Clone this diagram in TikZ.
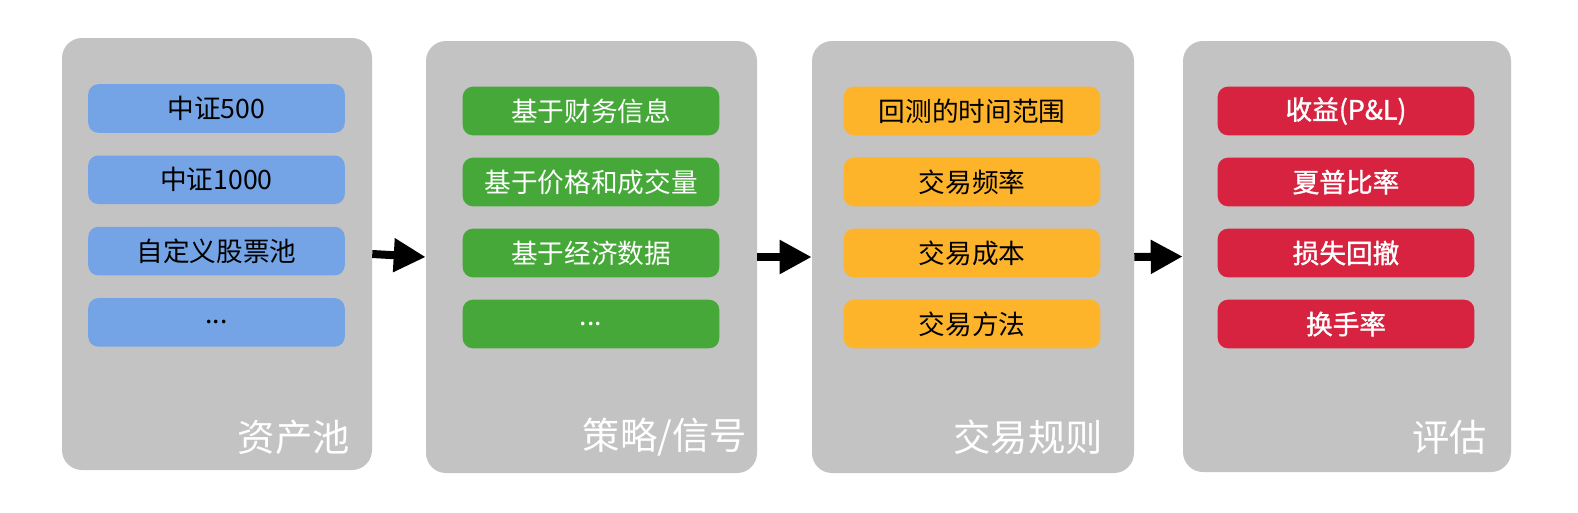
\documentclass[tikz,border=0pt]{standalone}
\usepackage{fontspec}
\setmainfont{Noto Sans CJK SC}
\newfontfamily\cjk{Noto Sans CJK SC}
\newfontfamily\cjkmed[FakeBold=1.2]{Noto Sans CJK SC}
\usetikzlibrary{arrows.meta}
\definecolor{panelgray}{RGB}{195,195,195}
\definecolor{cblue}{RGB}{116,164,230}
\definecolor{cgreen}{RGB}{69,168,56}
\definecolor{corange}{RGB}{253,180,42}
\definecolor{cred}{RGB}{216,35,64}
\tikzset{
  panel/.style={fill=panelgray, draw=none, rounded corners=15pt, inner sep=0pt},
  item/.style={draw=none, rounded corners=7.5pt, minimum width=192.4pt, minimum height=36.4pt, inner sep=0pt, font=\cjk\fontsize{20}{24}\selectfont},
  blueitem/.style={item, fill=cblue, text=black},
  greenitem/.style={item, fill=cgreen, text=white},
  orangeitem/.style={item, fill=corange, text=black},
  reditem/.style={item, fill=cred, text=white, font=\cjkmed\fontsize{20}{24}\selectfont},
  paneltitle/.style={anchor=east, text=white, inner sep=0pt, font=\cjk\fontsize{28}{32}\selectfont},
  flow/.style={line width=6pt, -{Triangle[length=24pt,width=24pt]}}
}
\begin{document}
\begin{tikzpicture}[x=0.75pt,y=-0.75pt]
\useasboundingbox (0,0) rectangle (1578,512);
\fill[white] (0,0) rectangle (1578,512);
% panels
\node[panel, minimum width=232.5pt, minimum height=324pt] (p1) at (217,254) {};
\node[panel, minimum width=248.25pt, minimum height=324pt] (p2) at (591.5,257) {};
\node[panel, minimum width=241.5pt, minimum height=324pt] (p3) at (973,257) {};
\node[panel, minimum width=246pt, minimum height=323.25pt] (p4) at (1347,256.5) {};
% panel 1 items
\node[blueitem] (a1) at (216.5,108.5) {中证500};
\node[blueitem] (a2) at (216.5,179.8) {中证1000};
\node[blueitem] (a3) at (216.5,251.1) {自定义股票池};
\node[blueitem] (a4) at (216.5,322.4) {...};
% panel 2 items
\node[greenitem] (b1) at (591,111) {基于财务信息};
\node[greenitem] (b2) at (591,182) {基于价格和成交量};
\node[greenitem] (b3) at (591,253) {基于经济数据};
\node[greenitem] (b4) at (591,324) {...};
% panel 3 items
\node[orangeitem] (c1) at (972,111) {回测的时间范围};
\node[orangeitem] (c2) at (972,182) {交易频率};
\node[orangeitem] (c3) at (972,253) {交易成本};
\node[orangeitem] (c4) at (972,324) {交易方法};
% panel 4 items
\node[reditem] (d1) at (1346,111) {收益(P\&L)};
\node[reditem] (d2) at (1346,182) {夏普比率};
\node[reditem] (d3) at (1346,253) {损失回撤};
\node[reditem] (d4) at (1346,324) {换手率};
% titles
\node[paneltitle] (t1) at (350,437) {资产池};
\node[paneltitle] (t2) at (747,437) {策略/信号};
\node[paneltitle] (t3) at (1103,437) {交易规则};
\node[paneltitle] (t4) at (1487,437) {评估};
% arrows
\draw[flow] (p1.east) -- (p2.west);
\draw[flow] (p2.east) -- (p3.west);
\draw[flow] (p3.east) -- (p4.west);
\end{tikzpicture}
\end{document}
